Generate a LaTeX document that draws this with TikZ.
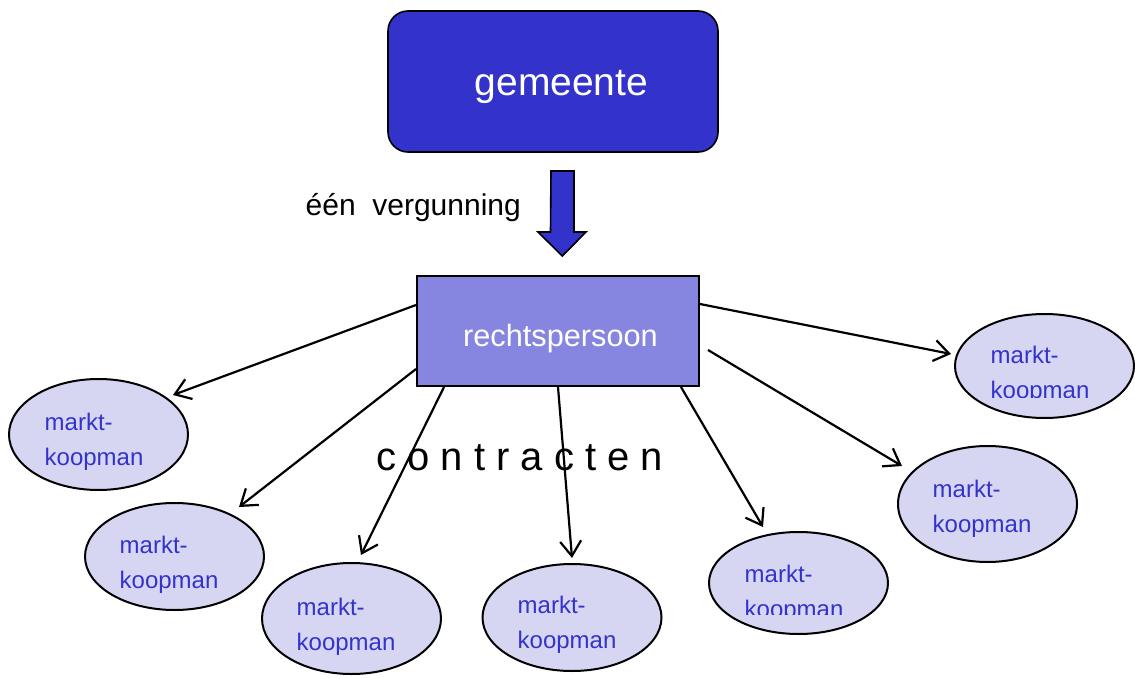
\documentclass[tikz,border=0pt]{standalone}
\usepackage{fontspec}
\setmainfont{Liberation Sans}
\usetikzlibrary{arrows.meta,shapes.geometric}
\definecolor{gmblue}{RGB}{51,51,204}
\definecolor{rpblue}{RGB}{134,134,224}
\definecolor{ellfill}{RGB}{214,214,243}
\definecolor{mktext}{RGB}{51,51,204}
\begin{document}
\begin{tikzpicture}[x=1pt,y=-1pt,
  gmbox/.style={draw=black, line width=1.6pt, fill=gmblue, rounded corners=20pt,
    minimum width=330pt, minimum height=141pt, inner sep=0pt, outer sep=0pt},
  rpbox/.style={draw=black, line width=2pt, fill=rpblue,
    minimum width=282pt, minimum height=110pt, inner sep=0pt, outer sep=0pt},
  mkell/.style={ellipse, draw=black, line width=2pt, fill=ellfill,
    minimum width=179pt, minimum height=#1, inner sep=0pt, outer sep=0pt},
  mktxt/.style={anchor=base west, inner sep=0pt, text=mktext,
    font=\fontsize{24}{28}\selectfont},
  bigtxt/.style={anchor=base west, inner sep=0pt},
  conn/.style={line width=2.2pt,
    -{Straight Barb[length=15pt,width=21pt,line width=2.2pt]}},
  blockarrow/.style={draw=black, line width=1.6pt, fill=gmblue, line join=miter},
]
\fill[white] (0,0) rectangle (1135,679);
\useasboundingbox (0,0) rectangle (1135,679);

% boxes
\node[gmbox] (gm) at (553,81.5) {};
\node[bigtxt, text=white, font=\fontsize{39}{45}\selectfont] (gmt) at (474.5,96) {gemeente};
\node[rpbox] (rp) at (558,331) {};
\node[bigtxt, text=white, font=\fontsize{30.7}{36}\selectfont] (rpt) at (463,346) {rechtspersoon};

% block arrow
\coordinate (ba) at (562.5,171);
\draw[blockarrow] (ba) ++(-11.5,0) -- ++(23,0) -- ++(0,61) -- ++(12,0)
  -- (562.3,256) -- (538,232) -- ++(12.5,0) -- cycle;

% labels
\node[bigtxt, font=\fontsize{30}{36}\selectfont] (verg) at (305.5,216) {één\ \ vergunning};
\node[bigtxt, font=\fontsize{40}{48}\selectfont] (contr) at (376,470) {c o n t r a c t e n};

% ellipses
\foreach \i/\cx/\cy/\h/\tx/\mb/\cl in {
  1/98.5/434.5/111/44.5/430/700,
  2/174.5/556.5/107/119.5/553/700,
  3/351.5/618.5/111/296.5/615/700,
  4/572/617.5/107/517.5/613/700,
  5/798.5/583/102/744.5/582/614,
  6/987.5/504/116/932.5/497/700,
  7/1044.5/366/104/990.5/363/397.5}
{
  \node[mkell=\h pt] (e\i) at (\cx,\cy) {};
  \node[mktxt] (m\i) at (\tx,\mb) {markt-};
  \begin{scope}
    \clip ({\tx-10},{\mb}) rectangle ({\tx+130},{\cl});
    \node[mktxt] (k\i) at (\tx,{\mb+35}) {koopman};
  \end{scope}
}

% connectors
\draw[conn] ([shift={(-1,-26)}]rp.west) -- ([shift={(74.5,-39.5)}]e1.center);
\draw[conn] ([shift={(-1,38)}]rp.west) -- ([shift={(64.5,-49.5)}]e2.center);
\draw[conn] ([shift={(-114,1)}]rp.south) -- ([shift={(9.5,-63.5)}]e3.center);
\draw[conn] ([shift={(0,1)}]rp.south) -- ([shift={(0,-59.5)}]e4.center);
\draw[conn] ([shift={(123,1)}]rp.south) -- ([shift={(-35.5,-56)}]e5.center);
\draw[conn] ([shift={(9,19)}]rp.east) -- ([shift={(-85.5,-38)}]e6.center);
\draw[conn] ([shift={(1,-27)}]rp.east) -- ([shift={(-93.5,-12)}]e7.center);
\end{tikzpicture}
\end{document}
